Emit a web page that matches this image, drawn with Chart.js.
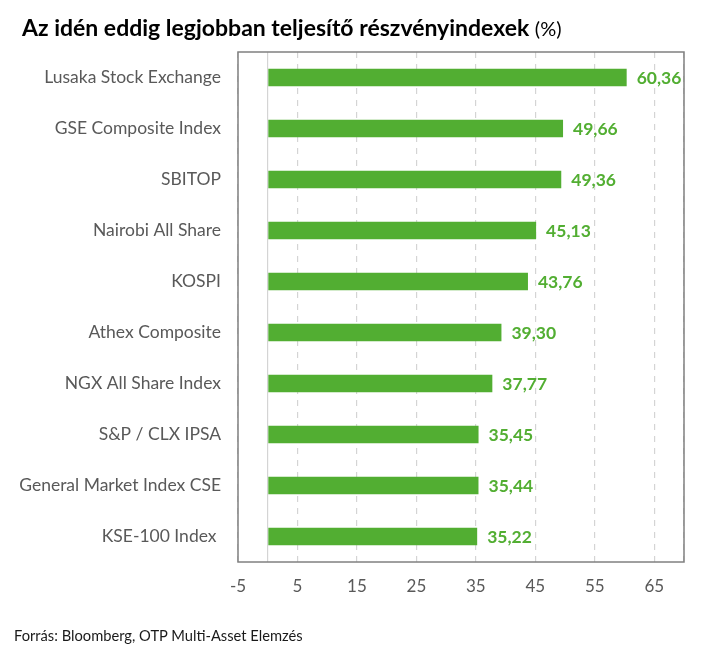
<!DOCTYPE html>
<html>
<head>
<meta charset="utf-8">
<script src="https://cdn.jsdelivr.net/npm/chart.js@4"></script>
<style>
  body { margin: 0; background: #fff; font-family: Lato, sans-serif; }
  #wrap { position: relative; width: 728px; height: 672px; }
  #title { position: absolute; left: 22px; top: 13px; font-size: 23px; font-weight: bold; color: #000; white-space: nowrap; }
  #title span { font-weight: normal; font-size: 20px; }
  #source { position: absolute; left: 14px; top: 626px; font-size: 14.7px; color: #1a1a1a; }
  canvas { position: absolute; left: 0; top: 0; }
</style>
</head>
<body>
<div id="wrap">
  <canvas id="myChart" width="728" height="672"></canvas>
  <div id="title">Az idén eddig legjobban teljesítő részvényindexek <span>(%)</span></div>
  <div id="source">Forrás: Bloomberg, OTP Multi-Asset Elemzés</div>
</div>
<script>
//the data
const indexNames = [
    'Lusaka Stock Exchange',
    'GSE Composite Index',
    'SBITOP',
    'Nairobi All Share',
    'KOSPI',
    'Athex Composite',
    'NGX All Share Index',
    'S&P / CLX IPSA',
    'General Market Index CSE',
    'KSE-100 Index '
]
const ytdReturns = [60.36, 49.66, 49.36, 45.13, 43.76, 39.30, 37.77, 35.45, 35.44, 35.22]
const xTicks = [-5, 5, 15, 25, 35, 45, 55, 65]

const green = '#52ae32'
const ctx = document.getElementById('myChart').getContext('2d')

//box around the plot + value labels
const extras = {
    id: 'extras',
    afterDatasetsDraw(chart) {
        const c = chart.ctx
        const area = chart.chartArea
        c.save()
        c.strokeStyle = '#808080'
        c.lineWidth = 1.5
        c.strokeRect(area.left, area.top, area.right - area.left, area.bottom - area.top)

        c.fillStyle = green
        c.font = 'bold 17.5px Lato'
        c.textBaseline = 'middle'
        chart.getDatasetMeta(0).data.forEach((bar, i) => {
            c.fillText(ytdReturns[i].toFixed(2).replace('.', ','), bar.x + 10, bar.y + 1)
        })
        c.restore()
    }
}

var chart = new Chart(ctx, {
    type: 'bar',
    data: {
        labels: indexNames,
        datasets: [{
            data: ytdReturns,
            backgroundColor: green,
            barPercentage: 0.34,
            categoryPercentage: 1
        }]
    },
    options: {
        indexAxis: 'y',
        responsive: false,
        animation: false,
        layout: { padding: { left: 0, top: 52, right: 44, bottom: 70 } },
        plugins: { legend: { display: false }, tooltip: { enabled: false } },
        scales: {
            x: {
                min: -5,
                max: 70,
                afterFit: (scale) => { scale.height = 40 },
                afterBuildTicks: (scale) => {
                    scale.ticks = [0].concat(xTicks, [70]).map(v => ({ value: v }))
                },
                ticks: {
                    padding: 14,
                    color: '#595959',
                    font: { family: 'Lato', size: 17 },
                    callback: (v) => (v === 0 || v === 70) ? '' : String(v)
                },
                grid: {
                    drawTicks: false,
                    color: '#d4d4d4',
                    lineWidth: 1.2
                },
                border: {
                    display: false,
                    dash: (c) => (c.tick && c.tick.value === 0) ? [] : [6, 6]
                }
            },
            y: {
                afterFit: (scale) => { scale.width = 238 },
                ticks: {
                    padding: 17,
                    color: '#595959',
                    font: { family: 'Lato', size: 17.5 }
                },
                grid: { display: false, drawTicks: false },
                border: { display: false }
            }
        }
    },
    plugins: [extras]
})
</script>
</body>
</html>
